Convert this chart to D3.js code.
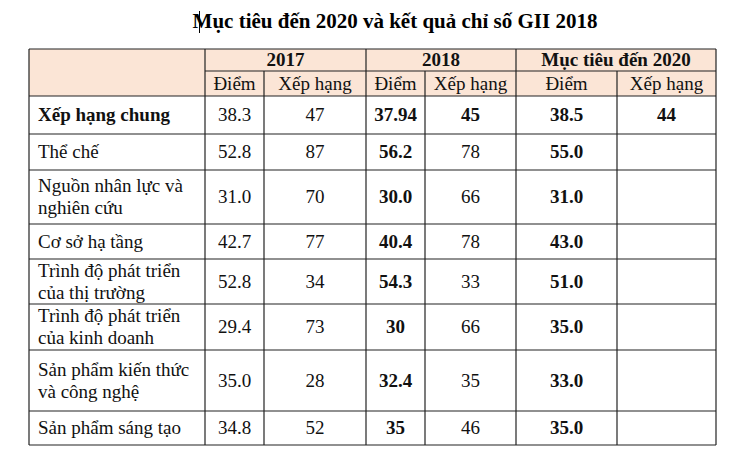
<!DOCTYPE html>
<html><head><meta charset="utf-8">
<script src="https://cdn.jsdelivr.net/npm/d3@7"></script>
<style>body{margin:0;background:#fff}</style></head>
<body><svg id="c" width="730" height="452"></svg>
<script>
const title = "Mục tiêu đến 2020 và kết quả chỉ số GII 2018";
const groups = ["2017", "2018", "Mục tiêu đến 2020"];
const subHeaders = ["Điểm", "Xếp hạng", "Điểm", "Xếp hạng", "Điểm", "Xếp hạng"];
const categories = [["Xếp hạng chung"], ["Thể chế"], ["Nguồn nhân lực và", "nghiên cứu"], ["Cơ sở hạ tầng"],
  ["Trình độ phát triển", "của thị trường"], ["Trình độ phát triển", "của kinh doanh"],
  ["Sản phẩm kiến thức", "và công nghệ"], ["Sản phẩm sáng tạo"]];
const score2017 = ["38.3", "52.8", "31.0", "42.7", "52.8", "29.4", "35.0", "34.8"];
const rank2017 = ["47", "87", "70", "77", "34", "73", "28", "52"];
const score2018 = ["37.94", "56.2", "30.0", "40.4", "54.3", "30", "32.4", "35"];
const rank2018 = ["45", "78", "66", "78", "33", "66", "35", "46"];
const score2020 = ["38.5", "55.0", "31.0", "43.0", "51.0", "35.0", "33.0", "35.0"];
const rank2020 = ["44", "", "", "", "", "", "", ""];

const svg = d3.select("#c");
const colX = [29, 205, 264, 366, 425, 516, 617, 716];
const rowY = [96, 134, 170, 224, 259, 304, 350, 411, 445];
const hTop = 49, hMid = 71;
const font = "Liberation Serif";

svg.append("text").attr("x", 395).attr("y", 28).attr("text-anchor", "middle")
  .attr("font-family", font).attr("font-size", 21).attr("font-weight", "bold").text(title);
svg.append("line").attr("x1", 199.5).attr("x2", 199.5).attr("y1", 11).attr("y2", 33).attr("stroke", "#000");

svg.append("rect").attr("x", colX[0]).attr("y", hTop).attr("width", colX[7] - colX[0]).attr("height", rowY[0] - hTop).attr("fill", "#fbe5d6");

const g = svg.append("g").style("font-family", font).attr("font-size", 19).attr("fill", "#111");
groups.forEach((t, i) => {
  g.append("text").attr("x", (colX[1 + 2 * i] + colX[3 + 2 * i]) / 2).attr("y", hMid - 5)
    .attr("text-anchor", "middle").attr("font-weight", "bold").text(t);
});
subHeaders.forEach((t, i) => {
  g.append("text").attr("x", (colX[1 + i] + colX[2 + i]) / 2).attr("y", rowY[0] - 6)
    .attr("text-anchor", "middle").text(t);
});
const cols = [score2017, rank2017, score2018, rank2018, score2020, rank2020];
categories.forEach((lines, r) => {
  const y0 = rowY[r], y1 = rowY[r + 1], cy = (y0 + y1) / 2;
  const t = g.append("text").attr("x", 38).attr("font-weight", r === 0 ? "bold" : null);
  lines.forEach((l, k) => {
    t.append("tspan").attr("x", 38).attr("y", cy + 6 + (k - (lines.length - 1) / 2) * 22).text(l);
  });
  cols.forEach((c, j) => {
    const bold = j === 2 || j === 4 || (r === 0 && j >= 2);
    g.append("text").attr("x", (colX[1 + j] + colX[2 + j]) / 2).attr("y", cy + 6)
      .attr("text-anchor", "middle").attr("font-weight", bold ? "bold" : null).text(c[r]);
  });
});

const L = svg.append("g").attr("stroke", "#222").attr("stroke-width", 1.2);
[hTop, ...rowY].forEach(y => L.append("line").attr("x1", colX[0]).attr("x2", colX[7]).attr("y1", y).attr("y2", y));
L.append("line").attr("x1", colX[1]).attr("x2", colX[7]).attr("y1", hMid).attr("y2", hMid);
colX.forEach((x, i) => {
  const top = (i === 0 || i === 1 || i === 3 || i === 5 || i === 7) ? hTop : hMid;
  L.append("line").attr("x1", x).attr("x2", x).attr("y1", top).attr("y2", rowY[8]);
});
</script></body></html>
